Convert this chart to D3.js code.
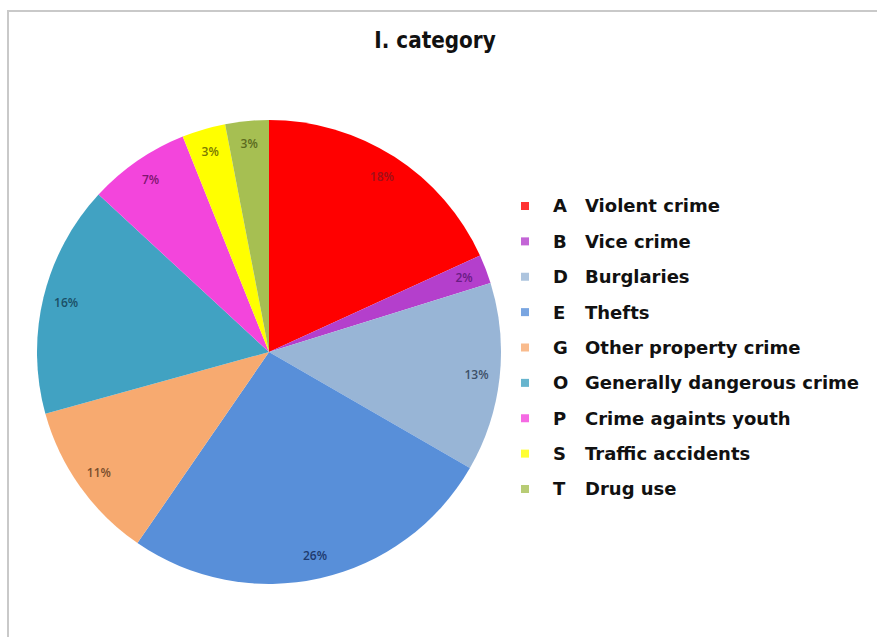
<!DOCTYPE html>
<html>
<head>
<meta charset="utf-8">
<script src="https://cdn.jsdelivr.net/npm/d3@7/dist/d3.min.js"></script>
<style>
  html, body { margin: 0; padding: 0; background: #ffffff; }
  svg { display: block; }
</style>
</head>
<body>
<svg id="chart" width="877" height="637"></svg>
<script>
// Crime categories, share of cases (%)
const codes = ["A", "B", "D", "E", "G", "O", "P", "S", "T"];
const names = ["Violent crime", "Vice crime", "Burglaries", "Thefts", "Other property crime",
               "Generally dangerous crime", "Crime againts youth", "Traffic accidents", "Drug use"];
const shares = [18, 2, 13, 26, 11, 16, 7, 3, 3];
const sliceColors = ["#ff0000", "#b43fcc", "#98b5d6", "#588fd9", "#f7aa70",
                     "#41a2c2", "#f345dc", "#ffff00", "#a6bf52"];
const labelColors = ["#a0101a", "#6a1c84", "#3d5068", "#1e3a6e", "#7a4e2c",
                     "#1b4f66", "#7e1670", "#7a7a00", "#5b6a1e"];

const svg = d3.select("#chart");
const W = 877, H = 637;

// outer frame
svg.append("path")
  .attr("d", `M8,${H} L8,11 L${W},11`)
  .attr("fill", "none")
  .attr("stroke", "#c9c9c9")
  .attr("stroke-width", 2);

// title, horizontally condensed
svg.append("text")
  .attr("transform", "translate(435,48) scale(0.87,1)")
  .attr("text-anchor", "middle")
  .attr("font-family", "'DejaVu Sans', sans-serif")
  .attr("font-weight", "bold")
  .attr("font-size", 23)
  .attr("fill", "#111")
  .text("I. category");

const data = codes.map((c, i) => ({ code: c, name: names[i], value: shares[i], i }));

const cx = 269, cy = 352, radius = 232;
const pie = d3.pie().value(d => d.value).sort(null);
const arc = d3.arc().innerRadius(0).outerRadius(radius);
const labelArc = d3.arc().innerRadius(radius * 0.9).outerRadius(radius * 0.9);

const g = svg.append("g").attr("transform", `translate(${cx},${cy})`);
const arcs = pie(data);

g.selectAll("path.slice")
  .data(arcs)
  .join("path")
  .attr("class", "slice")
  .attr("d", arc)
  .attr("fill", d => sliceColors[d.data.i]);

g.selectAll("text.pct")
  .data(arcs)
  .join("text")
  .attr("class", "pct")
  .attr("transform", d => `translate(${labelArc.centroid(d)})`)
  .attr("text-anchor", "middle")
  .attr("dy", "0.35em")
  .attr("font-family", "'Open Sans', 'Liberation Sans', sans-serif")
  .attr("font-size", 12)
  .attr("font-weight", 600)
  .attr("fill", d => labelColors[d.data.i])
  .text(d => d.data.value + "%");

// legend
const ly = d3.scalePoint().domain(codes).range([206, 489]);
const legend = svg.append("g")
  .attr("font-family", "'DejaVu Sans', Verdana, sans-serif")
  .attr("font-weight", "bold")
  .attr("font-size", 18)
  .attr("fill", "#111");

const rows = legend.selectAll("g.row")
  .data(data)
  .join("g")
  .attr("class", "row")
  .attr("transform", d => `translate(0,${ly(d.code)})`);

rows.append("rect")
  .attr("x", 521).attr("y", -4)
  .attr("width", 8).attr("height", 8)
  .attr("fill", d => sliceColors[d.i])
  .attr("opacity", 0.8);

rows.append("text")
  .attr("x", 553).attr("dy", "0.36em")
  .text(d => d.code);

rows.append("text")
  .attr("x", 585).attr("dy", "0.36em")
  .text(d => d.name);
</script>
</body>
</html>
